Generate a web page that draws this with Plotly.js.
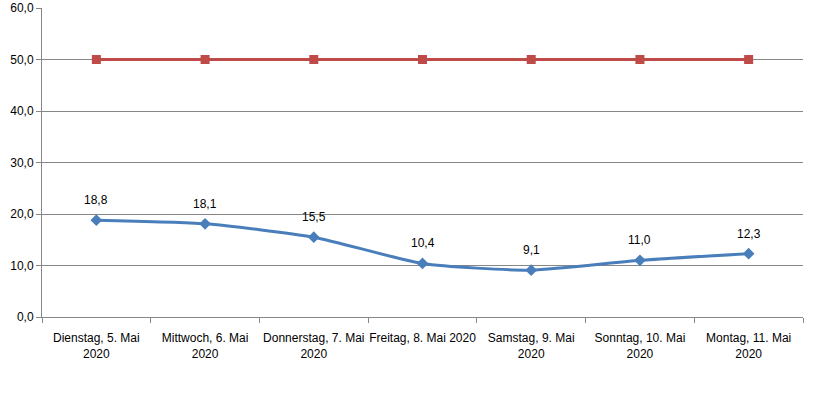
<!DOCTYPE html>
<html><head><meta charset="utf-8">
<script src="https://cdn.plot.ly/plotly-3.0.1.min.js"></script>
<style>html,body{margin:0;padding:0;background:#fff}#chart{width:825px;height:412px}</style>
</head><body><div id="chart"></div>
<script>
const categories = ["Dienstag, 5. Mai<br>2020","Mittwoch, 6. Mai<br>2020","Donnerstag, 7. Mai<br>2020","Freitag, 8. Mai 2020<br> ","Samstag, 9. Mai<br>2020","Sonntag, 10. Mai<br>2020","Montag, 11. Mai<br>2020"];
const seriesBlue = [18.8, 18.1, 15.5, 10.4, 9.1, 11.0, 12.3];
const seriesRed = [50, 50, 50, 50, 50, 50, 50];
const yTicks = [0, 10, 20, 30, 40, 50, 60];

const font = {family: "Liberation Sans, Arial, sans-serif", size: 12, color: "#000"};
const traces = [
  {x: categories, y: seriesRed, type: "scatter", mode: "lines+markers",
   line: {color: "#be4b48", width: 3}, marker: {symbol: "square", size: 9, color: "#be4b48"},
   hoverinfo: "none"},
  {x: categories, y: seriesBlue, type: "scatter", mode: "lines+markers",
   line: {color: "#4a7ebb", width: 3, shape: "spline", smoothing: 0.6},
   marker: {symbol: "diamond", size: 9, color: "#4a7ebb"},
   hoverinfo: "none"}
];
const annotations = seriesBlue.map((v, i) => ({
  x: categories[i], y: v, xref: "x", yref: "y", showarrow: false,
  text: v.toFixed(1).replace(".", ","), yshift: 20, font: font
}));
const layout = {
  width: 825, height: 412, showlegend: false,
  margin: {l: 42, r: 22, t: 8, b: 95},
  paper_bgcolor: "#fff", plot_bgcolor: "#fff",
  font: font, separators: ",.", annotations: annotations,
  xaxis: {type: "category", range: [-0.5, 6.5], autorange: false, automargin: false,
          showgrid: false, showline: true, linecolor: "#868686", linewidth: 1,
          ticks: "outside", tickson: "boundaries", ticklen: 5, tickcolor: "#868686",
          ticklabelstandoff: 10,
          tickfont: font, zeroline: false, fixedrange: true, tickangle: 0},
  yaxis: {range: [0, 60], autorange: false, automargin: false, tickvals: yTicks,
          ticktext: yTicks.map(v => v.toFixed(1).replace(".", ",")),
          showgrid: true, gridcolor: "#868686", gridwidth: 1, showline: true, linecolor: "#868686",
          ticks: "outside", ticklen: 5, tickcolor: "#868686", tickfont: font, zeroline: false, fixedrange: true}
};
Plotly.newPlot("chart", traces, layout, {displayModeBar: false, staticPlot: true});
</script></body></html>
